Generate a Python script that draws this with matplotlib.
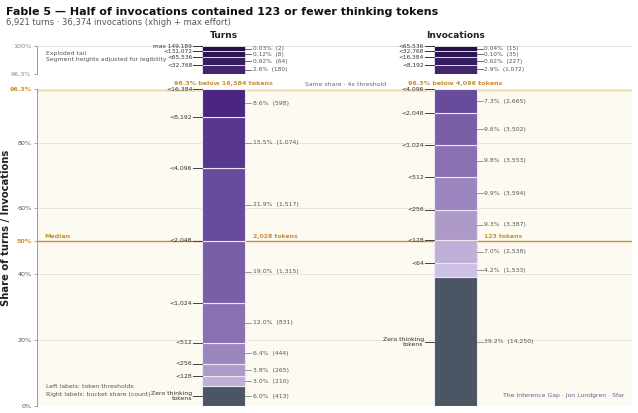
import matplotlib
matplotlib.use("Agg")
import matplotlib.pyplot as plt
import numpy as np
from matplotlib.colors import LinearSegmentedColormap
from matplotlib.transforms import blended_transform_factory

# ---------------- data ----------------
TITLE = "Fable 5 \u2014 Half of invocations contained 123 or fewer thinking tokens"
SUBTITLE = "6,921 turns \u00b7 36,374 invocations (xhigh + max effort)"
FOOTER = "The Inference Gap \u00b7 Jon Lundgren \u00b7 Sfar"

turns_total = 6921
inv_total = 36374

# main buckets, bottom -> top (threshold 0 = zero thinking tokens)
turns_thresholds = [0, 128, 256, 512, 1024, 2048, 4096, 8192, 16384]
turns_counts = [413, 210, 265, 444, 831, 1315, 1517, 1074, 598]
turns_tail_thresholds = [32768, 65536, 131072, 149189]   # last one = max
turns_tail_counts = [180, 64, 8, 2]

inv_thresholds = [0, 64, 128, 256, 512, 1024, 2048, 4096]
inv_counts = [14250, 1533, 2538, 3387, 3594, 3553, 3502, 2665]
inv_tail_thresholds = [8192, 16384, 32768, 65536]
inv_tail_counts = [1072, 227, 35, 15]

turns_median = 2028
inv_median = 123

y_ticks_main = [0, 20, 40, 50, 60, 80]
cut_share = 96.3

# ---------------- style ----------------
ORANGE = "#c98f2f"
ZERO_COLOR = "#4b5563"
TAIL_COLORS = ["#44266f", "#361d5f", "#2c1651", "#251147"]  # bottom -> top of tail
cmap = LinearSegmentedColormap.from_list(
    "thr",
    [(0.0, "#cdc1e3"), (1/12, "#c0b0d8"), (2/12, "#ad99c9"), (3/12, "#9b85be"),
     (4/12, "#8a70b0"), (5/12, "#7a5ea6"), (6/12, "#684b9a"), (7/12, "#583790"),
     (8/12, "#4a2682"), (9/12, "#3b1c6b"), (10/12, "#30165d"), (11/12, "#291352"),
     (1.0, "#230f47")])


def color_for(upper):
    if upper == 0:
        return ZERO_COLOR
    p = np.ceil(np.log2(upper))
    return cmap((p - 6) / 12)


def fmt_pct(p):
    return f"{p:.1f}%" if p >= 1 else f"{p:.2f}%"


plt.rcParams["font.family"] = ["DejaVu Sans"]
fig = plt.figure(figsize=(6.38, 4.13), dpi=100)
fig.patch.set_facecolor("white")

W, H = 638, 413
left_px, right_px = 37, 632
ax = fig.add_axes([left_px / W, 1 - 406 / H, (right_px - left_px) / W, (406 - 89) / H])
axt = fig.add_axes([left_px / W, 1 - 74 / H, (right_px - left_px) / W, (74 - 46) / H])

ax.set_facecolor("#fdfaf2")
axt.set_facecolor("white")
for a in (ax, axt):
    a.set_xlim(0, 1)
    for s in ("top", "right", "bottom"):
        a.spines[s].set_visible(False)
    a.spines["left"].set_color("#9a9a9a")
    a.spines["left"].set_linewidth(0.7)
    a.set_xticks([])
    a.tick_params(axis="y", length=2.5, width=0.6, color="#9a9a9a",
                  labelsize=4.6, labelcolor="#555555", pad=1.5)

ax.set_ylim(0, cut_share)
axt.set_ylim(cut_share, 100)

# ticks
main_ticks = y_ticks_main + [cut_share]
ax.set_yticks(main_ticks)
ax.set_yticklabels([("96.3%" if t == cut_share else f"{t}%") for t in main_ticks])
for lbl, t in zip(ax.get_yticklabels(), main_ticks):
    if t in (50, cut_share):
        lbl.set_color(ORANGE)
        lbl.set_fontweight("bold")
axt.set_yticks([cut_share, 100])
axt.set_yticklabels(["96.3%", "100%"])
for lbl in axt.get_yticklabels():
    lbl.set_color("#888888")

# grid lines
for t in [20, 40, 60, 80]:
    ax.axhline(t, color="#e4e1d9", lw=0.6, zorder=0)
ax.axhline(50, color=ORANGE, lw=1.0, zorder=1)
ax.axhline(cut_share - 0.45, color="#f6e2bb", lw=2.6, zorder=0.5)
axt.axhline(100, color="#dddddd", lw=0.6, zorder=0)
axt.axhline(cut_share, color="#dddddd", lw=0.6, zorder=0)

bar_w = 0.072
centers = {"turns": 0.314, "inv": 0.703}


def draw_column(cx, thresholds, counts, total, tail_thr, tail_counts, is_turns):
    xl, xr = cx - bar_w / 2, cx + bar_w / 2
    shares = np.array(counts) / total * 100
    bottoms = np.concatenate([[0], np.cumsum(shares)[:-1]])
    ax.bar([cx] * len(shares), shares, bottom=bottoms, width=bar_w,
           color=[color_for(t) for t in thresholds], edgecolor="#ece6f5",
           linewidth=0.8, zorder=3)
    for t, s, b, c in zip(thresholds, shares, bottoms, counts):
        mid = b + s / 2
        # right label
        ax.plot([xr, xr + 0.01], [mid, mid], color="#8a8a8a", lw=0.6, zorder=3,
                clip_on=False)
        ax.text(xr + 0.013, mid, f"{fmt_pct(s)}  ({c:,})", fontsize=4.4,
                color="#555555", va="center", ha="left")
        # left label
        if t == 0:
            ax.plot([xl - 0.015, xl], [mid, mid], color="#444444", lw=0.7,
                    zorder=3)
            ax.text(xl - 0.017, mid, "Zero thinking\ntokens", fontsize=4.4,
                    color="#333333", va="center", ha="right", linespacing=1.0)
        else:
            top = b + s
            ax.plot([xl - 0.015, xl], [top, top], color="#444444", lw=0.7,
                    zorder=3, clip_on=False)
            ax.text(xl - 0.017, top, f"<{t:,}", fontsize=4.4, color="#333333",
                    va="center", ha="right", clip_on=False)

    # exploded tail, heights adjusted for legibility
    tc = np.array(tail_counts, dtype=float)
    w = 0.5 / len(tc) + 0.5 * tc ** 0.25 / np.sum(tc ** 0.25)
    h = w * (100 - cut_share)
    b = cut_share + np.concatenate([[0], np.cumsum(h)[:-1]])
    axt.bar([cx] * len(h), h, bottom=b, width=bar_w,
            color=TAIL_COLORS[:len(h)], edgecolor="#ece6f5",
            linewidth=0.6, zorder=3)
    for i, (t, hh, bb, c) in enumerate(zip(tail_thr, h, b, tail_counts)):
        mid = bb + hh / 2
        top = bb + hh
        s = c / total * 100
        axt.plot([xr, xr + 0.01], [mid, mid], color="#555555", lw=0.6,
                 zorder=3, clip_on=False)
        axt.text(xr + 0.013, mid, f"{fmt_pct(s)}  ({c:,})", fontsize=4.2,
                 color="#555555", va="center", ha="left", clip_on=False)
        lab = f"max {t:,}" if (is_turns and i == len(tail_thr) - 1) else f"<{t:,}"
        axt.plot([xl - 0.015, xl], [top, top], color="#333333", lw=0.7,
                 zorder=3, clip_on=False)
        axt.text(xl - 0.017, top, lab, fontsize=4.2, color="#333333",
                 va="center", ha="right", clip_on=False)
    return xl, xr


txl, txr = draw_column(centers["turns"], turns_thresholds, turns_counts, turns_total,
                       turns_tail_thresholds, turns_tail_counts, True)
ixl, ixr = draw_column(centers["inv"], inv_thresholds, inv_counts, inv_total,
                       inv_tail_thresholds, inv_tail_counts, False)

# median labels
ax.text(0.013, 50.6, "Median", fontsize=4.6, color=ORANGE, fontweight="bold",
        va="bottom", ha="left")
ax.text(txr + 0.013, 50.6, f"{turns_median:,} tokens", fontsize=4.4,
        color=ORANGE, fontweight="bold", va="bottom", ha="left")
ax.text(ixr + 0.013, 50.6, f"{inv_median:,} tokens", fontsize=4.4,
        color=ORANGE, fontweight="bold", va="bottom", ha="left")

# between-axes annotations
tr = blended_transform_factory(ax.transData, fig.transFigure)
yb = 1 - 84 / H
ax.text(centers["turns"], yb, f"96.3% below {turns_thresholds[-1]:,} tokens",
        transform=tr, fontsize=4.6, color=ORANGE, fontweight="bold",
        ha="center", va="center")
ax.text(centers["inv"], yb, f"96.3% below {inv_thresholds[-1]:,} tokens",
        transform=tr, fontsize=4.6, color=ORANGE, fontweight="bold",
        ha="center", va="center")
ax.text((centers["turns"] + centers["inv"]) / 2 + 0.01, yb,
        "Same share \u00b7 4x threshold", transform=tr, fontsize=4.4,
        color="#666666", ha="center", va="center")

# column headers
ax.text(centers["turns"], 1 - 36 / H, "Turns", transform=tr, fontsize=6.5,
        fontweight="bold", color="#222222", ha="center", va="center")
ax.text(centers["inv"], 1 - 36 / H, "Invocations", transform=tr, fontsize=6.5,
        fontweight="bold", color="#222222", ha="center", va="center")

# notes
axt.text(0.015, 0.72, "Exploded tail", transform=axt.transAxes, fontsize=4.4,
         color="#555555", va="center")
axt.text(0.015, 0.50, "Segment heights adjusted for legibility",
         transform=axt.transAxes, fontsize=4.4, color="#555555", va="center")
ax.text(0.015, 0.060, "Left labels: token thresholds", transform=ax.transAxes,
        fontsize=4.4, color="#555555", va="center")
ax.text(0.015, 0.035, "Right labels: bucket share (count)", transform=ax.transAxes,
        fontsize=4.4, color="#555555", va="center")
ax.text(0.988, 0.032, FOOTER, transform=ax.transAxes, fontsize=4.4,
        color="#6b5b8a", va="center", ha="right")

# titles
fig.text(6 / W, 1 - 12 / H, TITLE, fontsize=8.0, fontweight="bold",
         color="#111111", va="center", ha="left")
fig.text(6 / W, 1 - 22.5 / H, SUBTITLE, fontsize=6.0, color="#555555",
         va="center", ha="left")
fig.text(6 / W, 1 - 228 / H, "Share of turns / Invocations", fontsize=7.2,
         fontweight="bold", color="#222222", rotation=90, va="center", ha="center")

fig.savefig("out.png", dpi=100, facecolor="white")
